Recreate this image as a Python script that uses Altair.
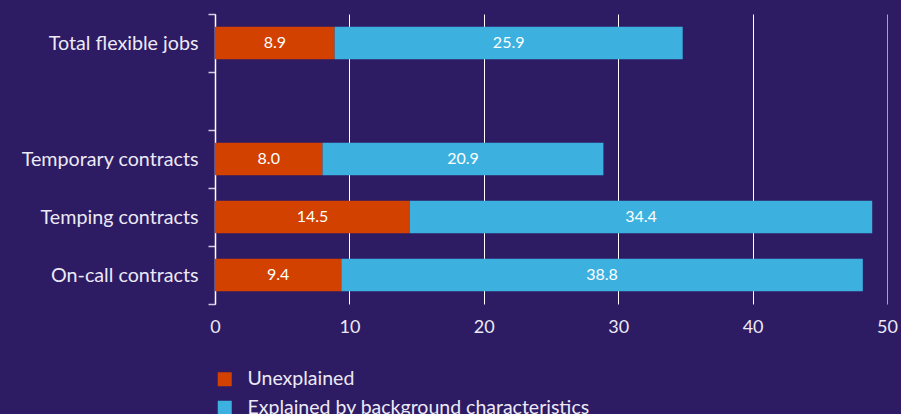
import altair as alt
import pandas as pd

categories = ["Total flexible jobs", "Temporary contracts", "Temping contracts", "On-call contracts"]
unexplained = [8.9, 8.0, 14.5, 9.4]
explained = [25.9, 20.9, 34.4, 38.8]
y_domain = ["Total flexible jobs", " ", "Temporary contracts", "Temping contracts", "On-call contracts"]
series = ["Unexplained", "Explained by background characteristics"]
colors = ["#d24100", "#3cb1e0"]
x_ticks = [0, 10, 20, 30, 40, 50]

rows = []
for c, u, e in zip(categories, unexplained, explained):
    rows.append({"cat": c, "series": series[0], "value": u, "ord": 0})
    rows.append({"cat": c, "series": series[1], "value": e, "ord": 1})
df = pd.DataFrame(rows)

FONT = "Lato"
BG = "#2d1b63"
LABEL = "#ece9f5"

base = alt.Chart(df).transform_stack(
    stack="value", groupby=["cat"], as_=["x0", "x1"], sort=[alt.SortField("ord", order="ascending")]
).transform_calculate(
    mid="(datum.x0 + datum.x1) / 2",
    label="format(datum.value, '.1f')"
)

y_scale = alt.Scale(domain=y_domain, paddingInner=0, paddingOuter=0)

y_enc = alt.Y(
    "cat:N",
    scale=y_scale,
    axis=alt.Axis(
        title=None, tickBand="extent", domainColor="#ffffff", domainWidth=1.5,
        tickColor="#d0cce0", tickSize=7, tickWidth=1.5, labelPadding=10,
        labelFontSize=19.7, labelColor=LABEL, labelFont=FONT, grid=False,
    ),
)

bars = base.mark_bar(height={"band": 0.56}).encode(
    x=alt.X(
        "x0:Q",
        scale=alt.Scale(domain=[0, 50], nice=False),
        axis=alt.Axis(
            title=None, values=x_ticks, grid=True,
            gridColor={"condition": {"test": "datum.value === 50", "value": "#a9a2c8"}, "value": "#ffffff"},
            gridWidth=1, domain=False, ticks=False, labelPadding=14, labelFlush=False,
            labelFontSize=18, labelColor=LABEL, labelFont=FONT,
        ),
    ),
    x2="x1:Q",
    y=y_enc,
    color=alt.Color(
        "series:N",
        scale=alt.Scale(domain=series, range=colors),
        legend=alt.Legend(
            title=None, orient="none", legendX=0, legendY=355.5, direction="vertical",
            symbolType="square", symbolSize=196, symbolStrokeWidth=0, symbolOpacity=1,
            labelFontSize=19.5, labelColor=LABEL, labelFont=FONT, labelOffset=13,
            labelLimit=0, rowPadding=7.5, padding=0,
        ),
    ),
    order=alt.Order("ord:Q"),
)

text = base.mark_text(fontSize=16, color="#ffffff", font=FONT).encode(
    x=alt.X("mid:Q"),
    y=alt.Y("cat:N", scale=y_scale),
    text="label:N",
)

chart = alt.layer(bars, text).properties(
    width=672, height=290, background=BG,
    autosize=alt.AutoSizeParams(type="none"),
    padding={"left": 215, "top": 14, "right": 14, "bottom": 110},
).configure_view(stroke=None)

chart.save("out.html", embed_options={"renderer": "svg", "actions": False})
